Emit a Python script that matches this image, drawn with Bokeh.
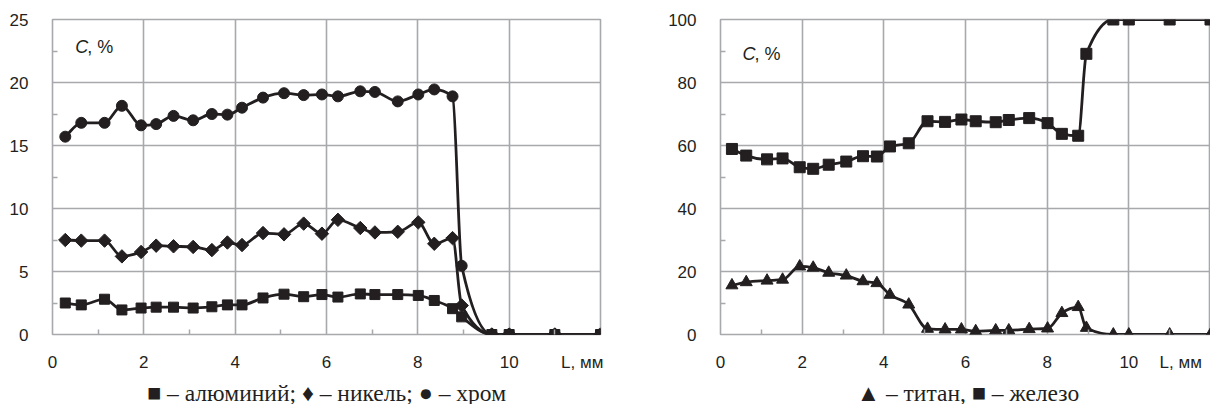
import math
from bokeh.plotting import figure
from bokeh.layouts import row, column
from bokeh.models import FixedTicker, Label
from bokeh.embed import file_html
from bokeh.resources import INLINE

# ---- data ----
L = [0.28, 0.63, 1.14, 1.52, 1.94, 2.27, 2.65, 3.08, 3.49, 3.83, 4.15, 4.61, 5.07, 5.50,
     5.90, 6.25, 6.74, 7.06, 7.56, 8.01, 8.36, 8.76, 8.96, 9.62, 10.0, 11.0, 12.0]
chromium = [15.7, 16.8, 16.8, 18.15, 16.6, 16.7, 17.35, 17.0, 17.5, 17.45, 18.0, 18.8, 19.15, 19.0,
            19.05, 18.9, 19.3, 19.25, 18.5, 19.05, 19.45, 18.9, 5.45, 0, 0, 0, 0]
nickel = [7.5, 7.45, 7.45, 6.2, 6.55, 7.05, 7.0, 6.95, 6.7, 7.3, 7.1, 8.05, 7.95, 8.8,
          8.0, 9.1, 8.45, 8.1, 8.15, 8.9, 7.2, 7.65, 2.3, 0, 0, 0, 0]
aluminium = [2.5, 2.35, 2.8, 1.95, 2.1, 2.17, 2.17, 2.1, 2.2, 2.35, 2.35, 2.9, 3.2, 3.0,
             3.17, 2.97, 3.22, 3.17, 3.17, 3.1, 2.7, 2.05, 1.4, 0, 0, 0, 0]
titanium = [15.6, 16.6, 17.1, 17.4, 21.6, 21.2, 19.6, 18.7, 16.9, 16.3, 12.6, 9.5, 1.8, 1.6,
            1.6, 1.05, 1.3, 1.3, 1.7, 1.9, 6.8, 8.7, 2.1, 0, 0, 0, 0]
iron = [58.9, 56.8, 55.6, 55.9, 53.1, 52.6, 53.9, 54.9, 56.6, 56.5, 59.7, 60.7, 67.7, 67.5,
        68.25, 67.7, 67.4, 68.1, 68.7, 67.1, 63.7, 63.1, 89.1, 100, 100, 100, 100]

left_yticks = [0, 5, 10, 15, 20, 25]
right_yticks = [0, 20, 40, 60, 80, 100]
xticks = [0, 2, 4, 6, 8, 10]
grid_xticks = [0, 2, 4, 6, 8, 10, 12]
x_unit_label = "L, мм"
legend_left = "■ – алюминий; ♦ – никель; ● – хром"
legend_right = "▲ – титан, ■ – железо"

INK = "#231f20"
GRID = "#a7a9ac"
SANS = "Liberation Sans"
SERIF = "Liberation Serif"

MAIN_H = 378
STRIP_H = 26


def sign(v):
    return (v > 0) - (v < 0)


def smooth(p, xs, ys):
    """Monotone (Steffen) cubic drawn as bezier segments through the data points."""
    n = len(xs)
    h = [xs[i + 1] - xs[i] for i in range(n - 1)]
    s = [(ys[i + 1] - ys[i]) / h[i] for i in range(n - 1)]
    m = [0.0] * n
    for i in range(1, n - 1):
        pp = (s[i - 1] * h[i] + s[i] * h[i - 1]) / (h[i - 1] + h[i])
        m[i] = (sign(s[i - 1]) + sign(s[i])) * min(abs(s[i - 1]), abs(s[i]), 0.5 * abs(pp))
    m[0] = s[0]
    m[-1] = s[-1]
    x0 = xs[:-1]; y0 = ys[:-1]; x1 = xs[1:]; y1 = ys[1:]
    cx0 = [xs[i] + h[i] / 3 for i in range(n - 1)]
    cy0 = [ys[i] + m[i] * h[i] / 3 for i in range(n - 1)]
    cx1 = [xs[i + 1] - h[i] / 3 for i in range(n - 1)]
    cy1 = [ys[i + 1] - m[i + 1] * h[i] / 3 for i in range(n - 1)]
    p.bezier(x0=x0, y0=y0, x1=x1, y1=y1, cx0=cx0, cy0=cy0, cx1=cx1, cy1=cy1,
             line_color=INK, line_width=2.8)


def make_fig(width, border_left, border_right, x_end, y_end, yticks, yminor, unit_pos):
    p = figure(width=width, height=MAIN_H, x_range=(0, x_end), y_range=(0, y_end),
               output_backend="svg", toolbar_location=None,
               min_border_left=border_left, min_border_right=border_right,
               min_border_top=19, min_border_bottom=44)
    p.background_fill_color = "white"
    p.border_fill_color = "white"
    p.outline_line_color = GRID
    p.outline_line_width = 1.6
    p.xaxis.ticker = FixedTicker(ticks=xticks + [unit_pos], minor_ticks=[1, 3, 5, 7, 9, 11])
    p.yaxis.ticker = FixedTicker(ticks=yticks, minor_ticks=yminor)
    p.xgrid.ticker = FixedTicker(ticks=grid_xticks)
    p.ygrid.ticker = FixedTicker(ticks=yticks)
    p.xaxis.major_label_overrides = {unit_pos: x_unit_label}
    for ax in (p.xaxis, p.yaxis):
        ax.axis_line_color = None
        ax.major_tick_line_color = None
        ax.minor_tick_in = 5
        ax.minor_tick_out = 0
        ax.minor_tick_line_color = GRID
        ax.minor_tick_line_width = 1.5
        ax.major_label_text_font = SANS
        ax.major_label_text_font_size = "17px"
        ax.major_label_text_color = INK
    p.xaxis.major_label_standoff = 12
    p.yaxis.major_label_standoff = 18
    p.xgrid.grid_line_color = GRID
    p.ygrid.grid_line_color = GRID
    p.xgrid.grid_line_width = 1.6
    p.ygrid.grid_line_width = 1.6
    return p


def add_c_label(p, cx, cy):
    p.add_layout(Label(x=cx, y=cy, y_offset=5, text="C", text_font=SANS,
                       text_font_style="italic", text_font_size="18px", text_color=INK,
                       text_baseline="alphabetic"))
    p.add_layout(Label(x=cx, y=cy, x_offset=12, y_offset=5, text=", %", text_font=SANS,
                       text_font_size="18px", text_color=INK, text_baseline="alphabetic"))


def make_strip(width, center_x, text):
    s = figure(width=width, height=STRIP_H, x_range=(0, width), y_range=(0, STRIP_H),
               output_backend="svg", toolbar_location=None,
               x_axis_location=None, y_axis_location=None,
               min_border_left=0, min_border_right=0, min_border_top=0, min_border_bottom=0)
    s.outline_line_color = None
    s.xgrid.visible = False
    s.ygrid.visible = False
    s.background_fill_color = "white"
    s.border_fill_color = "white"
    s.add_layout(Label(x=center_x, y=4, y_offset=8, text=text, text_font=SERIF,
                       text_font_size="23.5px", text_color=INK, text_align="center",
                       text_baseline="alphabetic"))
    return s


# ---- left panel ----
p1 = make_fig(640, 52, 40, 12, 25, left_yticks, [2.5, 7.5, 12.5, 17.5, 22.5], 11.6)
smooth(p1, L, aluminium)
smooth(p1, L, nickel)
smooth(p1, L, chromium)
p1.scatter(L, aluminium, marker="square", size=10, fill_color=INK, line_color=INK)
p1.scatter(L, nickel, marker="square", size=9.5, angle=math.pi / 4,
           fill_color=INK, line_color=INK)
p1.scatter(L, chromium, marker="circle", size=11, fill_color=INK, line_color=INK)
add_c_label(p1, 0.5, 22.46)

# ---- right panel ----
p2 = make_fig(570, 80, 0, 12, 100, right_yticks, [10, 30, 50, 70, 90], 11.27)
smooth(p2, L, titanium)
smooth(p2, L, iron)
p2.scatter(L, titanium, marker="triangle", size=12, fill_color=INK, line_color=INK)
p2.scatter(L, iron, marker="square", size=11, fill_color=INK, line_color=INK)
add_c_label(p2, 0.54, 87.6)

s1 = make_strip(640, 326, legend_left)
s2 = make_strip(570, 327.5, legend_right)

layout = column(row(p1, p2), row(s1, s2))
open("out.html", "w").write(file_html(layout, INLINE))
